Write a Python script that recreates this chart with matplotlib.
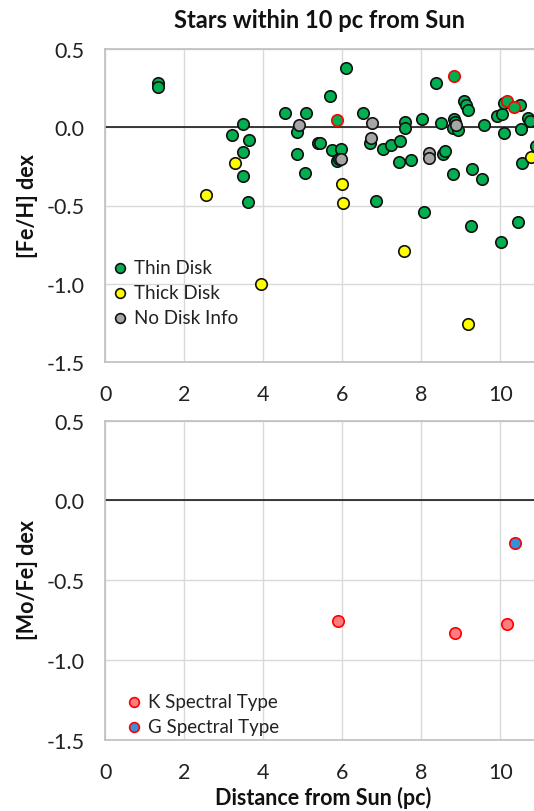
import matplotlib
matplotlib.use("Agg")
import matplotlib.pyplot as plt

plt.rcParams['font.family'] = ['Lato', 'DejaVu Sans']

# [Fe/H] panel, distance (pc) vs metallicity
thin_x = [1.34, 1.34, 3.49, 3.20, 3.65, 3.49, 3.49, 3.60, 4.55, 5.08, 4.86, 5.39,
          4.85, 5.06, 6.09, 5.69, 6.53, 6.70, 5.44, 5.75, 5.96, 5.87, 5.92, 7.02,
          7.23, 7.46, 7.43, 7.74, 7.60, 7.60, 8.03, 8.37, 8.54, 8.60, 8.49, 8.82,
          8.86, 8.80, 8.92, 8.79, 9.07, 9.13, 9.18, 9.29, 9.53, 9.59, 9.91, 10.04,
          10.09, 10.50, 10.09, 10.52, 10.71, 10.75, 10.54, 10.90, 6.85, 8.07, 9.27,
          10.01, 10.46]
thin_y = [0.285, 0.26, 0.02, -0.05, -0.08, -0.16, -0.31, -0.48, 0.094, 0.094, -0.03, -0.10,
          -0.17, -0.29, 0.376, 0.20, 0.094, -0.098, -0.10, -0.145, -0.137, -0.216, -0.205, -0.141,
          -0.111, -0.088, -0.222, -0.212, 0.034, -0.002, 0.051, 0.282, -0.17, -0.15, 0.024, 0.051,
          0.034, -0.002, -0.017, -0.30, 0.169, 0.141, 0.111, -0.265, -0.333, 0.013, 0.069, 0.083,
          0.158, 0.141, -0.038, -0.008, 0.062, 0.04, -0.23, -0.12, -0.474, -0.543, -0.633,
          -0.731, -0.605]

# thin disk stars that also have a [Mo/Fe] measurement (red outline)
mo_thin_x = [5.86, 8.83, 10.16, 10.35]
mo_thin_y = [0.045, 0.329, 0.165, 0.13]

thick_x = [3.28, 2.55, 3.94, 5.99, 6.01, 7.55, 9.19, 10.77]
thick_y = [-0.23, -0.43, -1.0, -0.36, -0.483, -0.79, -1.256, -0.19]

nodisk_x = [4.90, 6.74, 6.73, 5.96, 8.19, 8.19, 8.88]
nodisk_y = [0.015, 0.024, -0.068, -0.20, -0.163, -0.199, 0.013]

# [Mo/Fe] panel
k_x = [5.90, 8.85, 10.18]
k_y = [-0.755, -0.833, -0.775]
g_x = [10.37]
g_y = [-0.265]

W, H = 534, 812
fig = plt.figure(figsize=(W / 100, H / 100), dpi=100)

x_max = 11.5
px_per_unit = 39.5
ax_w = x_max * px_per_unit / W

ax1 = fig.add_axes([105.3 / W, 1 - 363 / H, ax_w, 313 / H])
ax2 = fig.add_axes([105.3 / W, 1 - 740.7 / H, ax_w, 319 / H])

grid_c = '#d9d9d9'
spine_c = '#bfbfbf'
ms = 68
lw = 1.2

for ax in (ax1, ax2):
    ax.set_xlim(0, x_max)
    ax.set_ylim(-1.5, 0.5)
    ax.set_xticks([0, 2, 4, 6, 8, 10])
    ax.set_yticks([-1.5, -1.0, -0.5, 0.0, 0.5])
    ax.set_yticklabels(['-1.5', '-1.0', '-0.5', '0.0', '0.5'])
    ax.tick_params(length=0, labelsize=15.5, colors='#222222')
    ax.tick_params(axis='y', pad=15)
    ax.tick_params(axis='x', pad=16)
    ax.grid(True, color=grid_c, lw=1.0, zorder=0)
    ax.set_axisbelow(True)
    for s in ax.spines.values():
        s.set_color(spine_c)
        s.set_linewidth(1.2)
    ax.spines['right'].set_visible(False)
    ax.axhline(0, color='#1a1a1a', lw=1.2, zorder=1)

ax1.scatter(thin_x, thin_y, s=ms, c='#00B050', edgecolors='#111111', linewidths=lw,
            zorder=3, label='Thin Disk')
ax1.scatter(thick_x, thick_y, s=ms, c='#FFFF00', edgecolors='#111111', linewidths=lw,
            zorder=3, label='Thick Disk')
ax1.scatter(nodisk_x, nodisk_y, s=ms, c='#A6A6A6', edgecolors='#111111', linewidths=lw,
            zorder=3, label='No Disk Info')
ax1.scatter(mo_thin_x, mo_thin_y, s=ms, c='#00B050', edgecolors='#FF0000', linewidths=lw,
            zorder=4, label='_nolegend_')

ax2.scatter(k_x, k_y, s=ms, c='#FF7C80', edgecolors='#FF0000', linewidths=lw,
            zorder=3, label='K Spectral Type')
ax2.scatter(g_x, g_y, s=ms, c='#3A8FD6', edgecolors='#FF0000', linewidths=lw,
            zorder=3, label='G Spectral Type')

leg_kw = dict(frameon=False, fontsize=13.5, markerscale=0.85, handlelength=0.65,
              handletextpad=0.4, labelspacing=0.42, borderpad=0, borderaxespad=0,
              loc='upper left')
leg1 = ax1.legend(bbox_to_anchor=(114 / W, 1 - 260 / H), bbox_transform=fig.transFigure, **leg_kw)
leg2 = ax2.legend(bbox_to_anchor=(128 / W, 1 - 694 / H), bbox_transform=fig.transFigure, **leg_kw)
for leg in (leg1, leg2):
    for t in leg.get_texts():
        t.set_color('#222222')

fig.text(319.5 / W, 1 - 21 / H, 'Stars within 10 pc from Sun', ha='center', va='center',
         fontsize=17, fontweight='bold', color='#111111')
fig.text(27 / W, 1 - 206 / H, '[Fe/H] dex', rotation=90, ha='center', va='center',
         fontsize=15.5, fontweight='bold', color='#111111')
fig.text(27 / W, 1 - 580 / H, '[Mo/Fe] dex', rotation=90, ha='center', va='center',
         fontsize=15.5, fontweight='bold', color='#111111')
fig.text(323 / W, 1 - 798 / H, 'Distance from Sun (pc)', ha='center', va='center',
         fontsize=15.5, fontweight='bold', color='#111111')

fig.savefig('out.png', dpi=100)
